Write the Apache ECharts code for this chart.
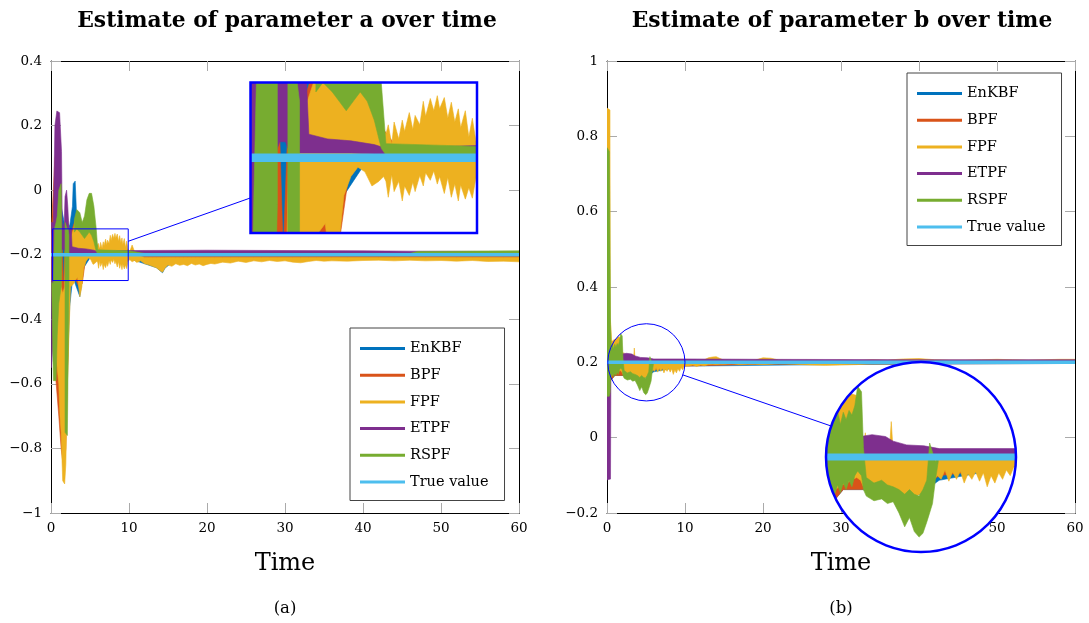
<!DOCTYPE html>
<html>
<head>
<meta charset="utf-8">
<script src="https://cdn.jsdelivr.net/npm/echarts@6/dist/echarts.min.js"></script>
<style>
  html, body { margin: 0; padding: 0; background: #fff; }
  #chart { width: 1089px; height: 623px; }
</style>
</head>
<body>
<div id="chart"></div>
<script>
// ---- series names, colours, axes ----
const NAMES = ['EnKBF', 'BPF', 'FPF', 'ETPF', 'RSPF', 'True value'];
const FILTERS = ['EnKBF', 'BPF', 'FPF', 'ETPF', 'RSPF'];
const COLOR = {
  'EnKBF': '#0072BD', 'BPF': '#D95319', 'FPF': '#EDB120',
  'ETPF': '#7E2F8E', 'RSPF': '#77AC30', 'True value': '#4DBEEE'
};
const TIME_MIN = 0, TIME_MAX = 60, TIME_STEP = 10;
const A_MIN = -1, A_MAX = 0.4, B_MIN = -0.2, B_MAX = 1, V_STEP = 0.2;
const TRUE_A = -0.2;
const TRUE_B = 0.2;
// magnified windows [t0, t1] x [v0, v1]
const SPY_A_T = [0.2, 9.9], SPY_A_V = [-0.28, -0.12];
const SPY_B_T = [0.1, 10], SPY_B_V = [0.098, 0.302];

// ---- estimate envelopes: rows of [time, lowest, highest]; null = gap ----
const aEnKBF = [[0.05,-0.3,-0.15],[0.3,-0.53,-0.1],[0.6,-0.52,-0.05],[0.9,-0.45,0.0],[1.3,-0.62,-0.05],[1.7,-0.82,-0.1],[2.0,-0.62,-0.1],[2.4,-0.36,-0.11],[2.75,-0.28,-0.05],[2.85,-0.27,0.02],[3.1,-0.29,0.028],[3.25,-0.3,-0.06],[3.7,-0.33,-0.1],[4.2,-0.24,-0.11],[5.0,-0.21,-0.1],[5.9,-0.21,-0.17],[6.0,-0.21,-0.195],[10,-0.212,-0.2],[13.5,-0.24,-0.2],[14.3,-0.256,-0.2],[14.6,-0.242,-0.2],[16,-0.215,-0.2],[60,-0.21,-0.2]];
const aBPF = [[0.05,-0.3,-0.12],[0.5,-0.55,0.1],[1.0,-0.7,0.18],[1.3,-0.8,-0.05],[1.6,-0.86,-0.3],[1.9,-0.8,-0.1],[2.2,-0.5,-0.12],[2.3,-0.29,-0.12],[2.6,-0.26,-0.13],[3.0,-0.27,-0.1],[3.6,-0.3,-0.08],[4.0,-0.29,-0.12],[4.4,-0.22,-0.1],[4.9,-0.2,-0.095],[5.4,-0.215,-0.12],[5.9,-0.212,-0.17],[6.5,-0.212,-0.19],[7.3,-0.209,-0.2],[10,-0.21,-0.2],[13,-0.212,-0.2],[20,-0.213,-0.2],[30,-0.212,-0.2],[40,-0.211,-0.2],[60,-0.212,-0.2]];
const aFPF = [[0.1,-0.3,-0.14],[0.4,-0.45,-0.1],[0.8,-0.55,0.1],[1.0,-0.6,0.17],[1.15,-0.7,-0.05],[1.3,-0.75,-0.3],[1.5,-0.9,-0.32],[1.75,-0.91,-0.3],[1.9,-0.85,-0.12],[2.1,-0.6,-0.08],[2.3,-0.45,-0.12],[2.5,-0.3,-0.15],[2.9,-0.29,-0.12],[3.1,-0.28,-0.09],[3.4,-0.27,-0.09],[3.7,-0.33,-0.1],[3.95,-0.3,-0.12],[4.2,-0.24,-0.12],[4.5,-0.22,-0.1],[4.8,-0.21,-0.09],[5.1,-0.215,-0.11],[5.4,-0.23,-0.125],[5.7,-0.225,-0.15],[5.9,-0.22,-0.17],
  [6.0,-0.225,-0.175],[6.1,-0.242,-0.165],[6.25,-0.218,-0.186],[6.35,-0.236,-0.162],[6.55,-0.225,-0.18],[6.7,-0.246,-0.16],[6.8,-0.23,-0.172],[7.0,-0.24,-0.152],[7.15,-0.226,-0.17],[7.25,-0.236,-0.155],[7.45,-0.219,-0.165],[7.6,-0.23,-0.14],[7.7,-0.216,-0.156],[7.9,-0.224,-0.137],[8.05,-0.214,-0.15],[8.2,-0.228,-0.134],[8.3,-0.22,-0.148],[8.5,-0.238,-0.136],[8.65,-0.221,-0.158],[8.8,-0.242,-0.141],[8.95,-0.228,-0.162],[9.1,-0.246,-0.148],[9.2,-0.229,-0.168],[9.4,-0.244,-0.15],[9.55,-0.232,-0.178],[9.7,-0.243,-0.158],[9.85,-0.222,-0.182],
  [10.1,-0.215,-0.19],[10.4,-0.222,-0.17],[10.7,-0.218,-0.19],[11,-0.224,-0.2],[11.5,-0.219,-0.205],[12,-0.228,-0.209],[12.5,-0.231,-0.209],[13,-0.236,-0.209],[13.5,-0.24,-0.209],[14,-0.25,-0.209],[14.3,-0.254,-0.209],[14.6,-0.242,-0.209],[15,-0.232,-0.209],[15.5,-0.236,-0.209],[16,-0.228,-0.209],[16.5,-0.233,-0.209],[17,-0.23,-0.209],[17.5,-0.234,-0.209],[18,-0.227,-0.209],[18.5,-0.232,-0.209],[19,-0.229,-0.209],[19.5,-0.234,-0.209],[20,-0.23,-0.209],[20.5,-0.227,-0.209],[21,-0.229,-0.209],[22,-0.223,-0.209],[23,-0.226,-0.209],[24,-0.22,-0.209],[25,-0.224,-0.209],[26,-0.219,-0.209],[27,-0.222,-0.209],[28,-0.218,-0.209],[29,-0.221,-0.209],[30,-0.219,-0.209],[31,-0.223,-0.209],[32,-0.225,-0.209],[33,-0.221,-0.209],[34,-0.218,-0.209],[35,-0.22,-0.209],[36,-0.219,-0.209],[38,-0.22,-0.209],[40,-0.218,-0.209],[42,-0.217,-0.209],[44,-0.219,-0.209],[46,-0.217,-0.209],[48,-0.219,-0.209],[50,-0.218,-0.209],[52,-0.22,-0.209],[54,-0.218,-0.209],[56,-0.221,-0.209],[58,-0.22,-0.209],[60,-0.222,-0.209]];
const aETPF = [[0.05,-0.55,-0.1],[0.3,-0.45,-0.1],[0.5,-0.3,0.2],[0.75,-0.25,0.245],[1.1,-0.22,0.24],[1.35,-0.19,0.12],[1.45,-0.183,-0.12],[1.7,-0.183,-0.1],[1.8,-0.19,-0.02],[2.0,-0.19,0.0],[2.15,-0.19,-0.05],[2.3,-0.195,-0.12],[2.6,-0.195,-0.12],[2.7,-0.195,-0.175],[3.5,-0.195,-0.18],[4.5,-0.195,-0.182],[5.5,-0.196,-0.186],[6.0,-0.197,-0.19],[10,-0.198,-0.187],[20,-0.198,-0.186],[30,-0.198,-0.187],[40,-0.198,-0.188],[46,-0.198,-0.189],[60,-0.198,-0.19]];
const aRSPF = [[0.1,-0.3,-0.285],[0.3,-0.59,-0.29],[0.45,-0.59,-0.12],[0.65,-0.59,-0.1],[0.8,-0.45,-0.08],[1.0,-0.35,0.0],[1.3,-0.3,0.02],[1.35,-0.25,-0.05], null,
  [1.8,-0.75,-0.1],[2.1,-0.76,-0.12],[2.2,-0.5,-0.12],[2.3,-0.3,-0.14], null,
  [3.0,-0.13,-0.09],[3.3,-0.12,-0.06],[3.7,-0.13,-0.07],[4.0,-0.14,-0.1],[4.3,-0.15,-0.08],[4.6,-0.14,-0.03],[4.9,-0.13,-0.01],[5.2,-0.14,-0.01],[5.5,-0.16,-0.05],[5.8,-0.19,-0.12],[6.0,-0.197,-0.185],[10,-0.198,-0.188],[12,-0.2,-0.196],[46,-0.2,-0.196],[47,-0.2,-0.19],[60,-0.2,-0.188]];

const bEnKBF = [[0.0,-0.05,0.3],[0.4,0.15,0.25],[1,0.165,0.24],[2,0.165,0.22],[3,0.16,0.21],[4,0.155,0.2],[5,0.16,0.2],[6,0.175,0.2],[10,0.19,0.2],[30,0.194,0.2],[60,0.197,0.2]];
const bBPF = [[0.0,0.1,0.5],[0.4,0.15,0.26],[1.0,0.165,0.24],[2.0,0.165,0.22],[2.4,0.166,0.21],[3.0,0.162,0.2],[4,0.16,0.2],[5,0.165,0.2],[6,0.18,0.2],[10,0.19,0.2],[20,0.195,0.202],[60,0.197,0.202]];
const bFPF = [[0.0,0.1,0.875],[0.38,0.1,0.87],[0.42,0.15,0.32],[0.6,0.165,0.255],[0.9,0.17,0.26],[1.2,0.172,0.262],[1.4,0.175,0.268],[1.7,0.178,0.266],[1.9,0.175,0.24],[2.05,0.168,0.21],[2.15,0.166,0.226],[2.25,0.165,0.205],[2.6,0.164,0.205],[2.9,0.165,0.222],[3.05,0.164,0.205],[3.4,0.16,0.206],[3.5,0.158,0.238],[3.6,0.158,0.206],[4.0,0.155,0.204],[4.5,0.156,0.202],[5.0,0.16,0.202],[5.5,0.17,0.2],[5.9,0.18,0.2],
  [6.1,0.176,0.2],[6.3,0.186,0.2],[6.5,0.174,0.2],[6.7,0.184,0.2],[6.9,0.176,0.2],[7.1,0.185,0.2],[7.3,0.172,0.2],[7.5,0.182,0.2],[7.7,0.176,0.2],[7.9,0.184,0.2],[8.1,0.174,0.2],[8.3,0.183,0.2],[8.5,0.168,0.2],[8.7,0.18,0.2],[8.9,0.172,0.2],[9.1,0.183,0.2],[9.3,0.176,0.2],[9.5,0.186,0.2],[9.7,0.18,0.203],[9.9,0.19,0.2],
  [10.5,0.19,0.205],[11,0.193,0.203],[11.5,0.189,0.204],[12,0.193,0.206],[12.5,0.191,0.207],[13,0.194,0.212],[13.5,0.195,0.214],[14,0.194,0.215],[14.5,0.195,0.21],[15,0.195,0.206],[16,0.196,0.205],[17,0.194,0.206],[18,0.195,0.205],[19,0.195,0.206],[20,0.194,0.212],[21,0.195,0.211],[22,0.196,0.206],[24,0.195,0.205],[26,0.193,0.206],[28,0.192,0.205],[30,0.193,0.206],[32,0.194,0.205],[34,0.196,0.207],[36,0.196,0.206],[38,0.197,0.209],[40,0.197,0.21],[42,0.197,0.207],[44,0.197,0.206],[46,0.197,0.206],[48,0.198,0.207],[50,0.197,0.208],[52,0.197,0.207],[54,0.198,0.206],[56,0.197,0.207],[58,0.197,0.208],[60,0.197,0.208]];
const bETPF = [[0.0,-0.112,0.2],[0.45,-0.11,0.2],[0.5,0.18,0.207],[0.9,0.182,0.205],[1.5,0.19,0.21],[1.9,0.198,0.222],[2.5,0.198,0.224],[3.2,0.198,0.222],[3.6,0.198,0.217],[4.3,0.198,0.213],[5.2,0.198,0.212],[6.0,0.198,0.209],[10,0.198,0.209],[20,0.198,0.208],[40,0.198,0.207],[60,0.198,0.207]];
const bRSPF = [[0.0,0.11,0.77],[0.3,0.11,0.76],[0.4,0.12,0.45],[0.45,0.155,0.3],[0.55,0.16,0.24],[0.7,0.17,0.25],[0.85,0.162,0.235],[1.0,0.172,0.248],[1.15,0.165,0.24],[1.3,0.175,0.25],[1.45,0.168,0.245],[1.6,0.18,0.255],[1.75,0.185,0.276],[1.95,0.18,0.27],[2.05,0.165,0.21],[2.2,0.158,0.178],[2.6,0.153,0.172],[3.0,0.155,0.175],[3.3,0.15,0.17],[3.6,0.152,0.168],[3.9,0.14,0.165],[4.2,0.125,0.16],[4.45,0.135,0.165],[4.7,0.12,0.16],[4.95,0.114,0.158],[5.15,0.118,0.165],[5.35,0.13,0.175],[5.5,0.14,0.215],[5.65,0.15,0.205],[5.8,0.175,0.195],[5.95,0.195,0.2]];

const BANDS_A = { EnKBF: aEnKBF, BPF: aBPF, FPF: aFPF, ETPF: aETPF, RSPF: aRSPF };
const BANDS_B = { EnKBF: bEnKBF, BPF: bBPF, FPF: bFPF, ETPF: bETPF, RSPF: bRSPF };

// ---- styling ----
const SERIF = '"DejaVu Serif", serif';
const BLUE = '#0000FF';
const TICK_GRAY = '#aaaaaa';

function fmtValue(v) {
  const s = Math.abs(v) < 1e-9 ? '0' : String(+v.toFixed(1));
  return s.replace('-', '\u2212');
}

function splitSegments(rows) {
  const segs = [];
  let cur = [];
  rows.forEach(r => {
    if (!r) { if (cur.length) segs.push(cur); cur = []; }
    else cur.push(r);
  });
  if (cur.length) segs.push(cur);
  return segs;
}

// filled envelope of one filter's estimates, clipped to its grid (rect or circle)
function bandSeries(name, rows, axisIdx, z, clipShape) {
  const color = COLOR[name];
  return {
    type: 'custom', name, xAxisIndex: axisIdx, yAxisIndex: axisIdx, z,
    silent: true, animation: false,
    itemStyle: { color },
    data: rows.filter(Boolean),
    encode: { x: 0, y: [1, 2] },
    renderItem(params, api) {
      if (params.dataIndex !== 0) return null;
      const cs = params.coordSys;
      const children = splitSegments(rows).map(seg => {
        const upper = seg.map(r => api.coord([r[0], r[2]]));
        const lower = seg.slice().reverse().map(r => api.coord([r[0], r[1]]));
        return {
          type: 'polygon', shape: { points: upper.concat(lower) },
          style: { fill: color, stroke: color, lineWidth: 0.6, lineJoin: 'round' }
        };
      });
      const clipPath = clipShape === 'circle'
        ? { type: 'circle', shape: { cx: cs.x + cs.width / 2, cy: cs.y + cs.height / 2, r: Math.min(cs.width, cs.height) / 2 } }
        : { type: 'rect', shape: { x: cs.x, y: cs.y, width: cs.width, height: cs.height } };
      return { type: 'group', children, clipPath };
    }
  };
}

function trueSeries(value, t0, t1, axisIdx, z, width) {
  return {
    type: 'line', name: 'True value', xAxisIndex: axisIdx, yAxisIndex: axisIdx, z,
    silent: true, animation: false, symbol: 'none', clip: true,
    data: [[t0, value], [t1, value]],
    lineStyle: { color: COLOR['True value'], width, cap: 'butt' },
    itemStyle: { color: COLOR['True value'] }
  };
}

function mainX(gridIndex, position, showLabels) {
  return {
    gridIndex, type: 'value', position, min: TIME_MIN, max: TIME_MAX, interval: TIME_STEP,
    axisLine: { show: true, onZero: false, lineStyle: { color: '#000', width: 1 } },
    axisTick: { show: true, inside: true, length: 10, lineStyle: { color: TICK_GRAY, width: 1 } },
    axisLabel: { show: showLabels, fontFamily: SERIF, fontSize: 13.5, color: '#000', margin: 8 },
    splitLine: { show: false },
    name: showLabels ? 'Time' : '', nameLocation: 'middle', nameGap: 39,
    nameTextStyle: { fontFamily: SERIF, fontSize: 24, color: '#000' }
  };
}
function mainY(gridIndex, position, showLabels, min, max) {
  return {
    gridIndex, type: 'value', position, min, max, interval: V_STEP,
    axisLine: { show: true, onZero: false, lineStyle: { color: '#000', width: 1 } },
    axisTick: { show: true, inside: true, length: 10, lineStyle: { color: TICK_GRAY, width: 1 } },
    axisLabel: { show: showLabels, fontFamily: SERIF, fontSize: 13.5, color: '#000', margin: 9, formatter: fmtValue },
    splitLine: { show: false }
  };
}
function hiddenAxis(gridIndex, min, max) {
  return { gridIndex, type: 'value', min, max, show: false, splitLine: { show: false } };
}

function legendAt(left, top) {
  return {
    orient: 'vertical', left, top, data: NAMES, icon: 'rect',
    itemWidth: 45, itemHeight: 3, itemGap: 7.7, selectedMode: false,
    padding: [11, 16, 9, 10], borderColor: '#444', borderWidth: 1, backgroundColor: '#fff',
    textStyle: { fontFamily: SERIF, fontSize: 14.5, color: '#000', lineHeight: 19 },
    z: 20
  };
}

const series = [];
FILTERS.forEach(n => series.push(bandSeries(n, BANDS_A[n], 0, 2, 'rect')));
series.push(trueSeries(TRUE_A, TIME_MIN, TIME_MAX, 0, 3, 3.5));
FILTERS.forEach(n => series.push(bandSeries(n, BANDS_A[n], 2, 50, 'rect')));
series.push(trueSeries(TRUE_A, SPY_A_T[0], SPY_A_T[1], 2, 55, 8.5));
FILTERS.forEach(n => series.push(bandSeries(n, BANDS_B[n], 3, 2, 'rect')));
series.push(trueSeries(TRUE_B, TIME_MIN, TIME_MAX, 3, 3, 3.5));
FILTERS.forEach(n => series.push(bandSeries(n, BANDS_B[n], 5, 50, 'circle')));
series.push(trueSeries(TRUE_B, SPY_B_T[0], SPY_B_T[1], 5, 55, 7));

const chart = echarts.init(document.getElementById('chart'), null, { renderer: 'canvas' });
chart.setOption({
  animation: false,
  backgroundColor: '#fff',
  grid: [
    { left: 51, top: 61, width: 468, height: 452 },
    { left: 250.5, top: 82.5, width: 226.5, height: 150.5 },
    { left: 607, top: 61, width: 468, height: 452 },
    { left: 826, top: 362, width: 190, height: 190 }
  ],
  xAxis: [
    mainX(0, 'bottom', true), mainX(0, 'top', false),
    hiddenAxis(1, SPY_A_T[0], SPY_A_T[1]),
    mainX(2, 'bottom', true), mainX(2, 'top', false),
    hiddenAxis(3, SPY_B_T[0], SPY_B_T[1])
  ],
  yAxis: [
    mainY(0, 'left', true, A_MIN, A_MAX), mainY(0, 'right', false, A_MIN, A_MAX),
    hiddenAxis(1, SPY_A_V[0], SPY_A_V[1]),
    mainY(2, 'left', true, B_MIN, B_MAX), mainY(2, 'right', false, B_MIN, B_MAX),
    hiddenAxis(3, SPY_B_V[0], SPY_B_V[1])
  ],
  legend: [legendAt(350, 328), legendAt(907, 73)],
  series
});

// ---- magnifier frames, connectors, titles ----
const toPx = (axisIdx, p) => chart.convertToPixel({ xAxisIndex: axisIdx, yAxisIndex: axisIdx }, p);
function boxOf(axisIdx, ts, vs) {
  const p0 = toPx(axisIdx, [ts[0], vs[1]]), p1 = toPx(axisIdx, [ts[1], vs[0]]);
  return { x: p0[0], y: p0[1], w: p1[0] - p0[0], h: p1[1] - p0[1], cx: (p0[0] + p1[0]) / 2, cy: (p0[1] + p1[1]) / 2 };
}
const smallA = boxOf(0, SPY_A_T, SPY_A_V);
const bigA = boxOf(2, SPY_A_T, SPY_A_V);
const smallB = boxOf(3, SPY_B_T, SPY_B_V);
const bigB = boxOf(5, SPY_B_T, SPY_B_V);

function rectExit(box, dx, dy) {
  return Math.min((box.w / 2) / Math.abs(dx || 1e-9), (box.h / 2) / Math.abs(dy || 1e-9));
}
const dAx = bigA.cx - smallA.cx, dAy = bigA.cy - smallA.cy;
const sA1 = rectExit(smallA, dAx, dAy), sA2 = rectExit(bigA, dAx, dAy);
const dBx = bigB.cx - smallB.cx, dBy = bigB.cy - smallB.cy, dBl = Math.hypot(dBx, dBy);
const rB1 = smallB.w / 2, rB2 = bigB.w / 2;

const TITLE_FONT = 'bold 21.8px "DejaVu Serif"';
const graphic = [
  { type: 'rect', z: 10, silent: true, shape: { x: smallA.x, y: smallA.y, width: smallA.w, height: smallA.h }, style: { fill: 'none', stroke: BLUE, lineWidth: 1 } },
  { type: 'line', z: 10, silent: true, shape: { x1: smallA.cx + dAx * sA1, y1: smallA.cy + dAy * sA1, x2: bigA.cx - dAx * sA2, y2: bigA.cy - dAy * sA2 }, style: { stroke: BLUE, lineWidth: 1 } },
  { type: 'rect', z: 40, silent: true, shape: { x: bigA.x, y: bigA.y, width: bigA.w, height: bigA.h }, style: { fill: '#fff' } },
  { type: 'rect', z: 60, silent: true, shape: { x: bigA.x, y: bigA.y, width: bigA.w, height: bigA.h }, style: { fill: 'none', stroke: BLUE, lineWidth: 2.5 } },
  { type: 'circle', z: 10, silent: true, shape: { cx: smallB.cx, cy: smallB.cy, r: rB1 }, style: { fill: 'none', stroke: BLUE, lineWidth: 1 } },
  { type: 'line', z: 10, silent: true, shape: { x1: smallB.cx + dBx / dBl * rB1, y1: smallB.cy + dBy / dBl * rB1, x2: bigB.cx - dBx / dBl * rB2, y2: bigB.cy - dBy / dBl * rB2 }, style: { stroke: BLUE, lineWidth: 1 } },
  { type: 'circle', z: 40, silent: true, shape: { cx: bigB.cx, cy: bigB.cy, r: rB2 }, style: { fill: '#fff' } },
  { type: 'circle', z: 60, silent: true, shape: { cx: bigB.cx, cy: bigB.cy, r: rB2 }, style: { fill: 'none', stroke: BLUE, lineWidth: 2.5 } },
  { type: 'text', z: 10, x: 287, y: 21, style: { text: 'Estimate of parameter a over time', font: TITLE_FONT, fill: '#000', align: 'center', verticalAlign: 'middle' } },
  { type: 'text', z: 10, x: 842, y: 21, style: { text: 'Estimate of parameter b over time', font: TITLE_FONT, fill: '#000', align: 'center', verticalAlign: 'middle' } },
  { type: 'text', z: 10, x: 285, y: 609, style: { text: '(a)', font: '16.5px "DejaVu Serif"', fill: '#000', align: 'center', verticalAlign: 'middle' } },
  { type: 'text', z: 10, x: 841, y: 609, style: { text: '(b)', font: '16.5px "DejaVu Serif"', fill: '#000', align: 'center', verticalAlign: 'middle' } }
];
chart.setOption({ graphic });
</script>
</body>
</html>
